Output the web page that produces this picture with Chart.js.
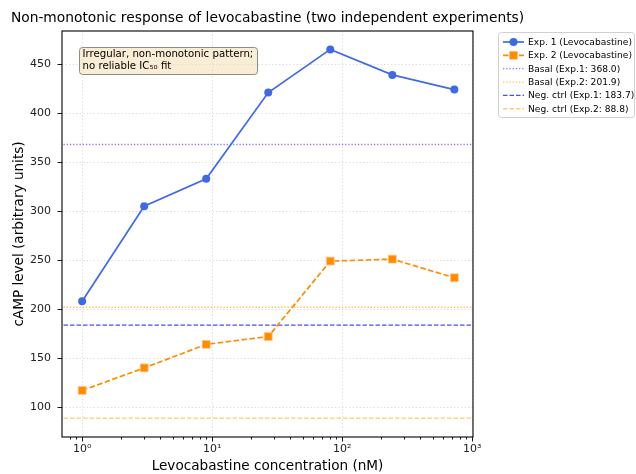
<!DOCTYPE html>
<html>
<head>
<meta charset="utf-8">
<script src="https://cdn.jsdelivr.net/npm/chart.js@4/dist/chart.umd.min.js"></script>
<style>
html,body{margin:0;padding:0;background:#fff;}
#c{display:block;}
</style>
</head>
<body>
<canvas id="c" width="636" height="474"></canvas>
<script>
// ---- data ----
const concentrations = [1, 3, 9, 27, 81, 243, 729];
const exp1Values = [208, 305, 333, 421, 465, 439, 424];
const exp2Values = [117, 140, 164, 172, 249, 251, 232];
const basalExp1 = 368.0;
const basalExp2 = 201.9;
const negCtrlExp1 = 183.7;
const negCtrlExp2 = 88.8;
const xTickValues = [1, 10, 100, 1000];
const xTickLabels = ['10\u2070', '10\u00B9', '10\u00B2', '10\u00B3'];
const yTickValues = [100, 150, 200, 250, 300, 350, 400, 450];
const titleText = 'Non-monotonic response of levocabastine (two independent experiments)';
const xAxisTitle = 'Levocabastine concentration (nM)';
const yAxisTitle = 'cAMP level (arbitrary units)';
const noteLines = ['Irregular, non-monotonic pattern;', 'no reliable IC\u2085\u2080 fit'];

const X_MIN = 0.719, X_MAX = 1014;
const Y_MIN = 69.5, Y_MAX = 483.8;
const FONT = '"DejaVu Sans", sans-serif';

function pts(xs, ys) { return xs.map((x, i) => ({x: x, y: ys[i]})); }
function hline(v) { return [{x: X_MIN, y: v}, {x: X_MAX, y: v}]; }

const datasets = [
  {label: 'Exp. 1 (Levocabastine)', data: pts(concentrations, exp1Values),
   borderColor: '#4169E1', backgroundColor: '#4169E1', borderWidth: 1.7,
   pointStyle: 'circle', pointRadius: 4, pointHoverRadius: 4, pointBorderWidth: 0, order: 1, _marker: 'circle'},
  {label: 'Exp. 2 (Levocabastine)', data: pts(concentrations, exp2Values),
   borderColor: '#FF8C00', backgroundColor: '#FF8C00', borderWidth: 1.7, borderDash: [5.5, 2.5],
   pointStyle: 'rect', pointRadius: 5.6, pointHoverRadius: 5.6, pointBorderWidth: 0.8, pointBorderColor: 'rgba(255,200,140,1)', order: 2, _marker: 'rect'},
  {label: 'Basal (Exp.1: 368.0)', data: hline(basalExp1),
   borderColor: 'rgba(70,70,255,0.7)', borderWidth: 1.3, borderDash: [1.3, 1.9], pointRadius: 0, order: 3},
  {label: 'Basal (Exp.2: 201.9)', data: hline(basalExp2),
   borderColor: 'rgba(255,170,20,0.75)', borderWidth: 1.3, borderDash: [1.3, 1.9], pointRadius: 0, order: 4},
  {label: 'Neg. ctrl (Exp.1: 183.7)', data: hline(negCtrlExp1),
   borderColor: 'rgba(30,30,255,0.8)', borderWidth: 1.3, borderDash: [4.5, 2], pointRadius: 0, order: 5},
  {label: 'Neg. ctrl (Exp.2: 88.8)', data: hline(negCtrlExp2),
   borderColor: 'rgba(255,175,40,0.65)', borderWidth: 1.3, borderDash: [4.5, 2], pointRadius: 0, order: 6}
];

const decorPlugin = {
  id: 'decor',
  afterDraw(chart) {
    const ctx = chart.ctx;
    const a = chart.chartArea;
    const xs = chart.scales.x, ys = chart.scales.y;
    ctx.save();
    // spines
    ctx.strokeStyle = '#000';
    ctx.lineWidth = 1.1;
    ctx.setLineDash([]);
    ctx.strokeRect(a.left, a.top, a.right - a.left, a.bottom - a.top);
    // x ticks (major + minor)
    ctx.lineWidth = 0.9;
    ctx.beginPath();
    for (let d = -1; d <= 3; d++) {
      for (let m = 1; m <= 9; m++) {
        const v = m * Math.pow(10, d);
        if (v < X_MIN || v > X_MAX) continue;
        const px = Math.round(xs.getPixelForValue(v)) + 0.5;
        const len = m === 1 ? 4.5 : 2.5;
        ctx.moveTo(px, a.bottom);
        ctx.lineTo(px, a.bottom + len);
      }
    }
    // y ticks
    yTickValues.forEach(v => {
      const py = Math.round(ys.getPixelForValue(v)) + 0.5;
      ctx.moveTo(a.left, py);
      ctx.lineTo(a.left - 4.5, py);
    });
    ctx.stroke();

    // title
    ctx.fillStyle = '#000';
    ctx.font = '13.8px ' + FONT;
    ctx.textAlign = 'center';
    ctx.textBaseline = 'middle';
    ctx.fillText(titleText, (a.left + a.right) / 2, 18);
    // axis titles
    ctx.font = '13.6px ' + FONT;
    ctx.fillText(xAxisTitle, (a.left + a.right) / 2, 466);
    ctx.save();
    ctx.translate(19.5, (a.top + a.bottom) / 2);
    ctx.rotate(-Math.PI / 2);
    ctx.fillText(yAxisTitle, 0, 0);
    ctx.restore();

    // annotation box
    const bx = 79.5, by = 47.5, bw = 178, bh = 27;
    roundRect(ctx, bx, by, bw, bh, 3);
    ctx.fillStyle = 'rgba(245,222,179,0.55)';
    ctx.fill();
    ctx.strokeStyle = '#8c8c8c';
    ctx.lineWidth = 1;
    ctx.stroke();
    ctx.fillStyle = '#000';
    ctx.font = '10.2px ' + FONT;
    ctx.textAlign = 'left';
    ctx.fillText(noteLines[0], 82.5, 54.5);
    ctx.fillText(noteLines[1], 82.5, 66.5);

    // legend
    const lx = 498.5, ly = 32.5, lw = 136, lh = 85;
    roundRect(ctx, lx, ly, lw, lh, 3);
    ctx.fillStyle = 'rgba(255,255,255,0.85)';
    ctx.fill();
    ctx.strokeStyle = '#d0d0d0';
    ctx.lineWidth = 1;
    ctx.stroke();
    ctx.font = '9.1px ' + FONT;
    chart.data.datasets.forEach((ds, i) => {
      const yy = 42 + i * 13.35;
      const x0 = 503, x1 = 524;
      ctx.strokeStyle = ds.borderColor;
      ctx.lineWidth = ds.borderWidth;
      ctx.setLineDash(ds.borderDash || []);
      ctx.beginPath();
      ctx.moveTo(x0, yy);
      ctx.lineTo(x1, yy);
      ctx.stroke();
      ctx.setLineDash([]);
      if (ds._marker === 'circle') {
        ctx.fillStyle = ds.backgroundColor;
        ctx.beginPath();
        ctx.arc((x0 + x1) / 2, yy, 4, 0, Math.PI * 2);
        ctx.fill();
      } else if (ds._marker === 'rect') {
        ctx.fillStyle = ds.backgroundColor;
        ctx.fillRect((x0 + x1) / 2 - 4, yy - 4, 8, 8);
      }
      ctx.fillStyle = '#000';
      ctx.fillText(ds.label, 528, yy + 0.5);
    });
    ctx.restore();
  }
};

function roundRect(ctx, x, y, w, h, r) {
  ctx.beginPath();
  ctx.moveTo(x + r, y);
  ctx.lineTo(x + w - r, y);
  ctx.arcTo(x + w, y, x + w, y + r, r);
  ctx.lineTo(x + w, y + h - r);
  ctx.arcTo(x + w, y + h, x + w - r, y + h, r);
  ctx.lineTo(x + r, y + h);
  ctx.arcTo(x, y + h, x, y + h - r, r);
  ctx.lineTo(x, y + r);
  ctx.arcTo(x, y, x + r, y, r);
  ctx.closePath();
}

new Chart(document.getElementById('c'), {
  type: 'line',
  data: {datasets: datasets},
  options: {
    responsive: false,
    animation: false,
    devicePixelRatio: 1,
    layout: {padding: {left: 0, right: 163, top: 31, bottom: 0}},
    plugins: {legend: {display: false}, title: {display: false}, tooltip: {enabled: false}},
    elements: {line: {tension: 0, fill: false}},
    scales: {
      x: {
        type: 'logarithmic', min: X_MIN, max: X_MAX,
        afterBuildTicks: s => { s.ticks = xTickValues.map(v => ({value: v, major: true})); },
        afterFit: s => { s.height = 37; },
        ticks: {
          callback: v => { const i = xTickValues.indexOf(v); return i >= 0 ? xTickLabels[i] : ''; },
          font: {family: FONT, size: 11}, color: '#222', padding: 6, maxRotation: 0, autoSkip: false
        },
        grid: {color: 'rgba(190,190,190,0.6)', lineWidth: 0.8, drawTicks: false},
        border: {display: false, dash: [1.5, 2]}
      },
      y: {
        type: 'linear', min: Y_MIN, max: Y_MAX,
        afterBuildTicks: s => { s.ticks = yTickValues.map(v => ({value: v})); },
        afterFit: s => { s.width = 62; },
        ticks: {font: {family: FONT, size: 11}, color: '#222', padding: 11},
        grid: {color: 'rgba(190,190,190,0.6)', lineWidth: 0.8, drawTicks: false},
        border: {display: false, dash: [1.5, 2]}
      }
    }
  },
  plugins: [decorPlugin]
});
</script>
</body>
</html>
